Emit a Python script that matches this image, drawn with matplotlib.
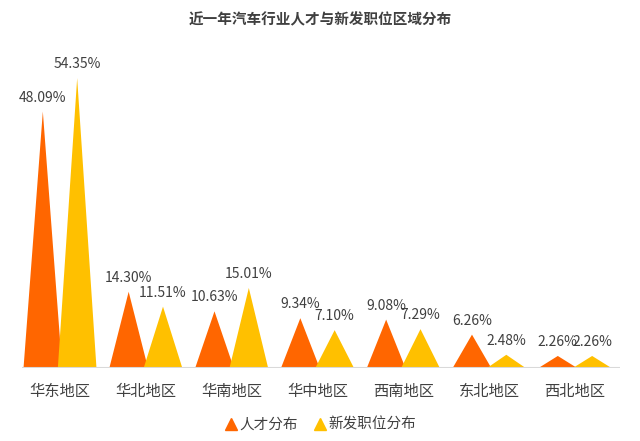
import numpy as np
import matplotlib
matplotlib.use('Agg')
import matplotlib.pyplot as plt
from matplotlib.patches import Polygon
from matplotlib.lines import Line2D

plt.rcParams['font.family'] = ['Noto Sans CJK SC', 'DejaVu Sans']
plt.rcParams['axes.unicode_minus'] = False

# 数据
regions = ['华东地区', '华北地区', '华南地区', '华中地区', '西南地区', '东北地区', '西北地区']
talent = [48.09, 14.30, 10.63, 9.34, 9.08, 6.26, 2.26]
jobs = [54.35, 11.51, 15.01, 7.10, 7.29, 2.48, 2.26]
series_names = ['人才分布', '新发职位分布']
colors = ['#FF6600', '#FFC000']

text_color = '#404040'

fig = plt.figure(figsize=(6.4, 4.41), dpi=100)
ax = fig.add_axes([0, 0.1655, 1, 0.7256])

unit = 85.83  # 每类别像素
ax.set_xlim(-60 / unit, (640 - 60) / unit)
ax.set_ylim(0, 60)

half_w = 0.225
offset = 0.2

for s, (vals, color) in enumerate([(talent, colors[0]), (jobs, colors[1])]):
    for i, v in enumerate(vals):
        cx = i + (offset if s == 1 else -offset)
        tri = Polygon([(cx - half_w, 0), (cx, v), (cx + half_w, 0)],
                      closed=True, facecolor=color, edgecolor='none', zorder=2 + s)
        ax.add_patch(tri)
        ax.text(cx, v + 1.3, f'{v:.2f}%', ha='center', va='bottom',
                fontsize=10, color=text_color, zorder=5)

# 基线
ax.plot([-0.44, 6.52], [0, 0], color='#D9D9D9', linewidth=1.5, zorder=4,
        solid_capstyle='butt')

for i, r in enumerate(regions):
    ax.text(i, -2.8, r, ha='center', va='top', fontsize=11, color=text_color)

ax.axis('off')

fig.text(0.5, 0.957, '近一年汽车行业人才与新发职位区域分布', ha='center', va='center',
         fontsize=10.5, fontweight='bold', color=text_color)

handles = [Line2D([], [], marker='^', linestyle='none', color=c, markersize=8)
           for c in colors]
fig.legend(handles, series_names, loc='center', bbox_to_anchor=(0.5, 0.037),
           ncol=2, frameon=False, fontsize=10.5, handletextpad=0.1,
           columnspacing=1.0, handlelength=1.0, labelcolor=text_color)

plt.savefig('out.png', dpi=100)
plt.close()
